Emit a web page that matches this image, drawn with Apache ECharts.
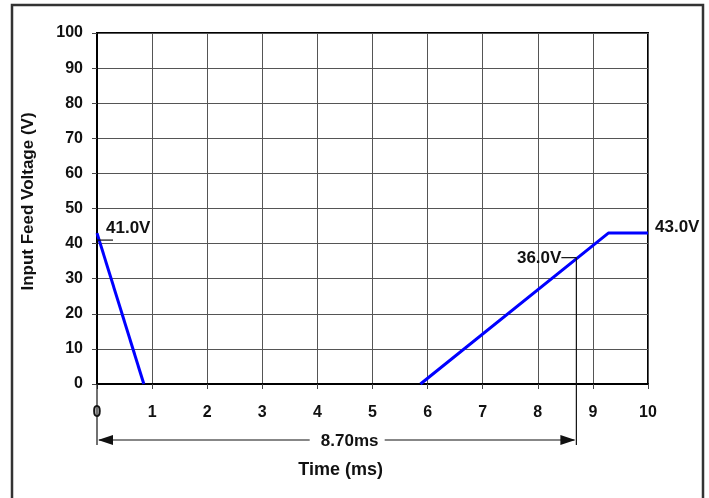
<!DOCTYPE html>
<html>
<head>
<meta charset="utf-8">
<script src="https://cdn.jsdelivr.net/npm/echarts@6/dist/echarts.min.js"></script>
<style>
html,body{margin:0;padding:0;background:#fff;}
#c{width:709px;height:498px;}
</style>
</head>
<body>
<div id="c"></div>
<script>
// ---- data ----
const xTicks = [0,1,2,3,4,5,6,7,8,9,10];
const yTicks = [0,10,20,30,40,50,60,70,80,90,100];
const fallSeries = [[0,43],[0.85,0]];
const riseSeries = [[5.87,0],[9.28,43],[10,43]];
const startMarker = {t:0, v:41.0, label:'41.0V'};
const crossMarker = {t:8.70, v:36.0, label:'36.0V'};
const endMarker = {t:10, v:43.0, label:'43.0V'};
const spanLabel = '8.70ms';
const xTitle = 'Time (ms)';
const yTitle = 'Input Feed Voltage (V)';

const FONT = '"Liberation Sans", Arial, sans-serif';
const chart = echarts.init(document.getElementById('c'), null, {renderer:'canvas'});

const axisCommon = {
  type:'value',
  axisLine:{show:true, onZero:false, lineStyle:{color:'#000', width:2}},
  axisTick:{show:true, length:5, lineStyle:{color:'#444', width:1}},
  splitLine:{show:true, lineStyle:{color:'#555', width:1}},
  axisLabel:{color:'#111', fontFamily:FONT, fontWeight:'bold', fontSize:16}
};

chart.setOption({
  animation:false,
  backgroundColor:'#fff',
  grid:{left:97, right:61, top:33, bottom:114, show:true, borderColor:'#000', borderWidth:2, backgroundColor:'transparent'},
  xAxis:Object.assign({}, axisCommon, {
    min:xTicks[0], max:xTicks[xTicks.length-1], interval:1,
    axisLabel:Object.assign({}, axisCommon.axisLabel, {margin:21})
  }),
  yAxis:Object.assign({}, axisCommon, {
    min:yTicks[0], max:yTicks[yTicks.length-1], interval:10,
    axisLabel:Object.assign({}, axisCommon.axisLabel, {margin:14})
  }),
  series:[
    {type:'line', data:fallSeries, symbol:'none', lineStyle:{color:'#0000ff', width:3}, z:5},
    {type:'line', data:riseSeries, symbol:'none', lineStyle:{color:'#0000ff', width:3}, z:5}
  ]
});

function px(t, v){ return chart.convertToPixel({gridIndex:0}, [t, v]); }

const base = px(0,0);
const top100 = px(0,100);
const sMark = px(startMarker.t, startMarker.v);
const cMark = px(crossMarker.t, crossMarker.v);
const eMark = px(endMarker.t, endMarker.v);
const dimY = base[1] + 56;
const extEnd = base[1] + 61;
const mid = (base[0]+cMark[0])/2;
const txt = (x,y,s,align,vAlign,size,extra) => ({type:'text', x:x, y:y, z:50, style:Object.assign({text:s, fill:'#111', font:'bold '+size+'px '+FONT, textAlign:align, textVerticalAlign:vAlign}, extra||{})});
const ln = (x1,y1,x2,y2,w,c) => ({type:'line', z:40, shape:{x1:x1,y1:y1,x2:x2,y2:y2}, style:{stroke:c||'#111', lineWidth:w||1}});

const g = [
  // outer frame
  {type:'rect', z:1, shape:{x:12, y:5, width:691, height:520}, style:{fill:'none', stroke:'#333', lineWidth:2.5}},
  // y title
  {type:'text', x:base[0]-69, y:(base[1]+top100[1])/2 - 7, rotation:Math.PI/2, z:50,
   style:{text:yTitle, fill:'#111', font:'bold 17px '+FONT, textAlign:'center', textVerticalAlign:'middle'}},
  // start marker
  ln(sMark[0], sMark[1], sMark[0]+16, sMark[1], 1.2),
  txt(sMark[0]+9, sMark[1]-12, startMarker.label, 'left', 'middle', 17),
  // crossing marker
  ln(cMark[0]-15, cMark[1], cMark[0], cMark[1], 1.2),
  ln(cMark[0], cMark[1], cMark[0], extEnd, 1.2),
  txt(cMark[0]-15, cMark[1]+1, crossMarker.label, 'right', 'middle', 17),
  // end marker
  txt(eMark[0]+7, eMark[1]-6, endMarker.label, 'left', 'middle', 17),
  // dimension
  ln(base[0], base[1], base[0], extEnd, 1.2),
  ln(base[0]+2, dimY, mid-27, dimY, 1.2),
  ln(mid+48, dimY, cMark[0]-2, dimY, 1.2),
  {type:'polygon', z:41, shape:{points:[[base[0]+1,dimY],[base[0]+16,dimY-5],[base[0]+16,dimY+5]]}, style:{fill:'#111'}},
  {type:'polygon', z:41, shape:{points:[[cMark[0]-1,dimY],[cMark[0]-16,dimY-5],[cMark[0]-16,dimY+5]]}, style:{fill:'#111'}},
  txt(mid+13, dimY+1, spanLabel, 'center', 'middle', 17),
  // x title
  txt(mid+4, base[1]+86, xTitle, 'center', 'middle', 18)
];
chart.setOption({graphic:g});
</script>
</body>
</html>
